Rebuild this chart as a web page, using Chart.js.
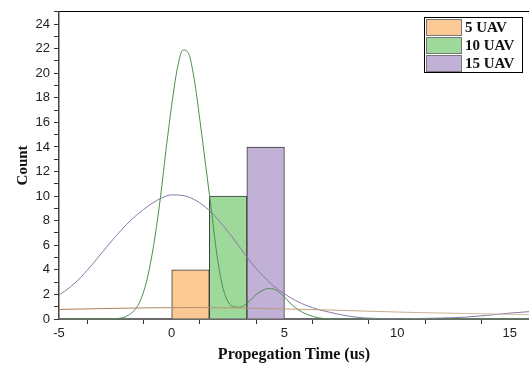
<!DOCTYPE html>
<html>
<head>
<meta charset="utf-8">
<script src="https://cdn.jsdelivr.net/npm/chart.js@4.4.0/dist/chart.umd.min.js"></script>
<style>
  html, body { margin: 0; padding: 0; background: #fff; }
</style>
</head>
<body>
<canvas id="grafico" width="529" height="365"></canvas>
<script>
// histogram bins
const seriesLabels = ['5 UAV', '10 UAV', '15 UAV'];
const binEdges = [0, 1.667, 3.333, 5];
const counts = [4, 10, 14];

// fitted curves
const tanX = [-5, -3, -1, 1, 3, 5, 7, 9, 11, 13, 15, 16];
const tanY = [0.78, 0.85, 0.91, 0.93, 0.9, 0.82, 0.73, 0.62, 0.52, 0.45, 0.38, 0.35];

const greenX = [-5, -3, -2.5, -2, -1.5, -1.25, -1, -0.75, -0.5, -0.25, 0, 0.25, 0.5, 0.75, 1, 1.25, 1.5, 1.75, 2,
  2.25, 2.5, 2.75, 3, 3.25, 3.5, 3.75, 4, 4.25, 4.5, 4.75, 5, 5.25, 5.5, 5.75, 6, 6.25, 6.5, 7, 8, 16];
const greenY = [0, 0, 0.03, 0.23, 1.1, 2.2, 4.0, 6.6, 9.9, 13.8, 17.4, 20.4, 21.9, 21.6, 19.5, 16.2, 12.6, 9.0, 5.3,
  2.7, 1.4, 1.0, 0.95, 1.15, 1.55, 2.0, 2.3, 2.47, 2.45, 2.2, 1.8, 1.3, 0.9, 0.6, 0.38, 0.22, 0.1, 0.02, 0, 0];

const purpleX = [-5, -4.5, -4, -3.5, -3, -2.5, -2, -1.5, -1, -0.5, 0, 0.5, 1, 1.5, 2, 2.5, 3, 3.5, 4, 4.5, 5,
  5.5, 6, 6.5, 7, 7.5, 8, 8.5, 9, 10, 11, 12, 13, 14, 15, 16];
const purpleY = [1.94, 2.6, 3.45, 4.5, 5.6, 6.7, 7.7, 8.55, 9.25, 9.8, 10.1, 10.05, 9.72, 9.1, 8.2, 7.1, 5.9, 4.65,
  3.6, 2.72, 2.05, 1.5, 1.08, 0.78, 0.55, 0.35, 0.19, 0.09, 0.05, 0.03, 0.04, 0.08, 0.15, 0.3, 0.48, 0.62];

const xTickValues = [-5, -2.5, 0, 2.5, 5, 7.5, 10, 12.5, 15];

const barColors = ['#fbc993', '#9fd89b', '#c1b1d7'];
const serif = "'Liberation Serif', 'Times New Roman', serif";
const sans = "'Liberation Sans', Arial, sans-serif";

const pontos = (xs, ys) => xs.map((x, i) => ({ x, y: ys[i] }));

const barras = seriesLabels.map((label, i) => ({
  type: 'bar',
  label,
  data: [{ x: (binEdges[i] + binEdges[i + 1]) / 2, y: counts[i] }],
  backgroundColor: barColors[i],
  borderColor: '#3a3a3a',
  borderWidth: 1,
  barPercentage: 1,
  categoryPercentage: 1,
  grouped: false,
  order: 2,
}));

function curva(xs, ys, color) {
  return {
    type: 'line',
    data: pontos(xs, ys),
    borderColor: color,
    borderWidth: 1,
    pointRadius: 0,
    cubicInterpolationMode: 'monotone',
    fill: false,
    order: 1,
  };
}

const tanGradient = (context) => {
  const { ctx, chartArea } = context.chart;
  if (!chartArea) return '#c4a07c';
  const g = ctx.createLinearGradient(chartArea.left, 0, chartArea.right, 0);
  g.addColorStop(0, '#a87a50');
  g.addColorStop(1, '#d6c0a8');
  return g;
};

// legend drawn inside the plot, top right
const legendaInterna = {
  id: 'legendaInterna',
  afterDatasetsDraw(chart) {
    const ctx = chart.ctx;
    ctx.save();
    ctx.strokeStyle = '#000';
    ctx.lineWidth = 1;
    ctx.strokeRect(424.5, 17.5, 98, 55);
    ctx.font = 'bold 15px ' + serif;
    ctx.textBaseline = 'middle';
    seriesLabels.forEach((label, i) => {
      const y = 19.5 + i * 18;
      ctx.fillStyle = barColors[i];
      ctx.fillRect(426.5, y, 35, 16);
      ctx.strokeStyle = '#777';
      ctx.strokeRect(426.5, y, 35, 16);
      ctx.fillStyle = '#111';
      ctx.fillText(label, 465, y + 9);
    });
    ctx.restore();
  },
};

const ctx = document.getElementById('grafico').getContext('2d');
new Chart(ctx, {
  type: 'bar',
  data: {
    datasets: [
      ...barras,
      curva(tanX, tanY, tanGradient),
      curva(greenX, greenY, '#4e8e4e'),
      curva(purpleX, purpleY, '#8878a8'),
    ],
  },
  options: {
    responsive: false,
    animation: false,
    layout: { padding: 0 },
    plugins: {
      legend: { display: false },
      tooltip: { enabled: false },
    },
    scales: {
      x: {
        type: 'linear',
        min: -5,
        max: 15.85,
        offset: false,
        afterBuildTicks: (scale) => {
          scale.ticks = xTickValues.map((v) => ({ value: v }));
        },
        afterFit: (scale) => { scale.height = 46; },
        ticks: {
          autoSkip: false,
          maxRotation: 0,
          padding: 2,
          color: '#222',
          font: { family: sans, size: 13 },
          callback: (v) => (v % 5 === 0 ? v : ''),
        },
        grid: { drawOnChartArea: false, tickLength: 5, color: '#333' },
        border: { color: '#6a6a6a', width: 2 },
        title: {
          display: true,
          text: 'Propegation Time (us)',
          color: '#111',
          font: { family: serif, size: 16, weight: 'bold' },
          padding: { top: 0, bottom: 1 },
        },
      },
      xTop: {
        type: 'linear',
        position: 'top',
        afterFit: (scale) => { scale.height = 9; },
        ticks: { display: false },
        grid: { drawOnChartArea: false, drawTicks: false },
        border: { color: '#000', width: 1 },
      },
      y: {
        min: 0,
        max: 25,
        afterFit: (scale) => { scale.width = 59; },
        ticks: {
          stepSize: 1,
          autoSkip: false,
          padding: 4,
          color: '#222',
          font: { family: sans, size: 13 },
          callback: (v) => (v % 2 === 0 ? v : ''),
        },
        grid: { drawOnChartArea: false, tickLength: 5, color: '#333' },
        border: { color: '#444', width: 1.5 },
        title: {
          display: true,
          text: 'Count',
          color: '#111',
          font: { family: serif, size: 15, weight: 'bold' },
          padding: { top: 14, bottom: 0 },
        },
      },
    },
  },
  plugins: [legendaInterna],
});
</script>
</body>
</html>
